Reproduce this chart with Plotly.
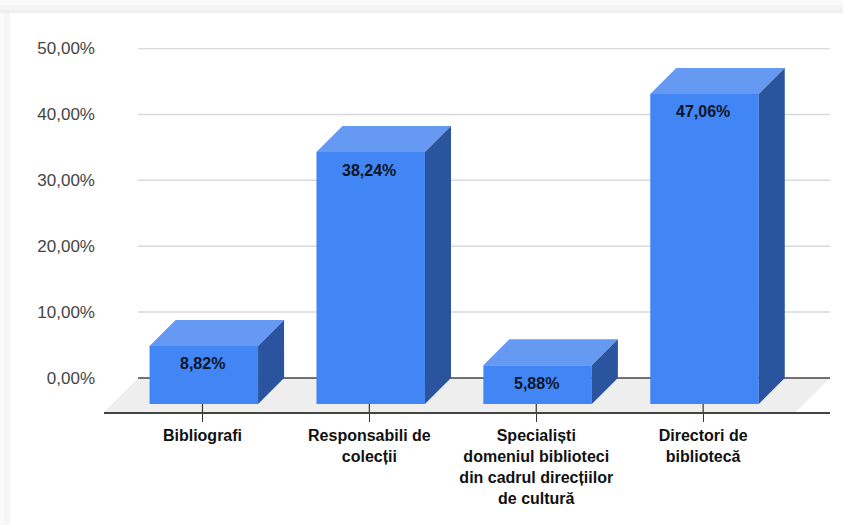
import plotly.graph_objects as go

categories = ["Bibliografi", "Responsabili de<br>colecții",
              "Specialiști<br>domeniul biblioteci<br>din cadrul direcțiilor<br>de cultură",
              "Directori de<br>bibliotecă"]
values = [8.82, 38.24, 5.88, 47.06]
value_labels = ["8,82%", "38,24%", "5,88%", "47,06%"]
y_ticks = [0, 10, 20, 30, 40, 50]
y_tick_labels = ["0,00%", "10,00%", "20,00%", "30,00%", "40,00%", "50,00%"]

FRONT, TOP, SIDE = "#4285f4", "#6699f2", "#2a549e"
W, H = 843, 525
L, R, T, B = 104, 830, 48, 412
x_lo, x_hi = -0.590, 3.76
y_lo, y_hi = -5.16, 50.08
depth_x = 0.156      # oblique depth of the bars, category units
depth_y = 3.945      # oblique depth of the bars, value units
floor_x = 0.204      # depth of the floor
half = 0.325
shift = 0.008

xs = list(range(len(categories)))
fig = go.Figure()

fig.add_trace(go.Bar(x=[i + shift for i in xs], y=values, base=[-depth_y] * len(values),
                     width=half * 2, marker=dict(color=FRONT, line=dict(width=0)), hoverinfo="skip"))

for i, v in zip(xs, values):
    a, b = i + shift - half, i + shift + half
    lo, hi = v - depth_y, v
    fig.add_trace(go.Scatter(x=[a, b, b + depth_x, a + depth_x, a], y=[lo, lo, hi, hi, lo],
                             mode="lines", fill="toself", fillcolor=TOP,
                             line=dict(width=0, color=TOP), hoverinfo="skip"))
    fig.add_trace(go.Scatter(x=[b, b + depth_x, b + depth_x, b, b],
                             y=[lo, hi, 0, -depth_y, lo],
                             mode="lines", fill="toself", fillcolor=SIDE,
                             line=dict(width=0, color=SIDE), hoverinfo="skip"))

shapes = []
sx, sy = 1 / (R - L), 1 / (B - T)
# page background strips around the white card
for x0, x1, y0, y1, col in [(0, 10, 0, 525, "#f6f6f6"), (0, 4, 0, 525, "#fafafa"),
                            (0, 843, 0, 5, "#fbfbfb"), (0, 843, 5, 10, "#f5f5f5"),
                            (0, 843, 10, 13, "#efefef")]:
    shapes.append(dict(type="rect", xref="paper", yref="paper", layer="below",
                       x0=(x0 - L) * sx, x1=(x1 - L) * sx,
                       y0=(B - y1) * sy, y1=(B - y0) * sy,
                       fillcolor=col, line=dict(width=0)))
# floor
back_left = x_lo + floor_x
shapes.append(dict(type="path", layer="below", line=dict(width=0), fillcolor="#eeeeee",
                   path=f"M {x_lo} {y_lo} L {x_hi - floor_x} {y_lo} L {x_hi} 0 L {back_left} 0 Z"))
# gridlines on the back wall
for t in y_ticks:
    shapes.append(dict(type="line", layer="below", x0=back_left, x1=x_hi, y0=t, y1=t,
                       line=dict(color="#444444" if t == 0 else "#d9d9d9", width=1.5)))
# tick stubs rising to the bar front
for i in xs:
    shapes.append(dict(type="line", layer="below", x0=i, x1=i, y0=y_lo, y1=-depth_y,
                       line=dict(color="#333333", width=1.2)))

annotations = [dict(x=i, y=v - depth_y, text=f"<b>{s}</b>", showarrow=False, yshift=-18,
                    xref="x", yref="y", font=dict(family="Liberation Sans", size=16, color="#0b1526"))
               for i, v, s in zip(xs, values, value_labels)]

fig.update_layout(
    width=W, height=H, showlegend=False, paper_bgcolor="white", plot_bgcolor="rgba(0,0,0,0)",
    margin=dict(l=L, r=W - R, t=T, b=H - B, pad=0),
    font=dict(family="Liberation Sans"),
    shapes=shapes, annotations=annotations,
    xaxis=dict(range=[x_lo, x_hi], tickmode="array", tickvals=xs,
               ticktext=[f"<b>{c}</b>" for c in categories],
               showgrid=False, zeroline=False, showline=True, linecolor="#444444", linewidth=2,
               ticks="outside", ticklen=8, tickwidth=1.2, tickcolor="#333333",
               tickfont=dict(size=16, color="#111111"), tickangle=0),
    yaxis=dict(range=[y_lo, y_hi], tickmode="array", tickvals=y_ticks, ticktext=y_tick_labels,
               showgrid=False, zeroline=False, showline=False, ticks="",
               ticklabelstandoff=8, tickfont=dict(size=17, color="#444444")),
)
fig.write_html("out.html", config=dict(displayModeBar=False),
               post_script="document.body.style.margin='0';")
